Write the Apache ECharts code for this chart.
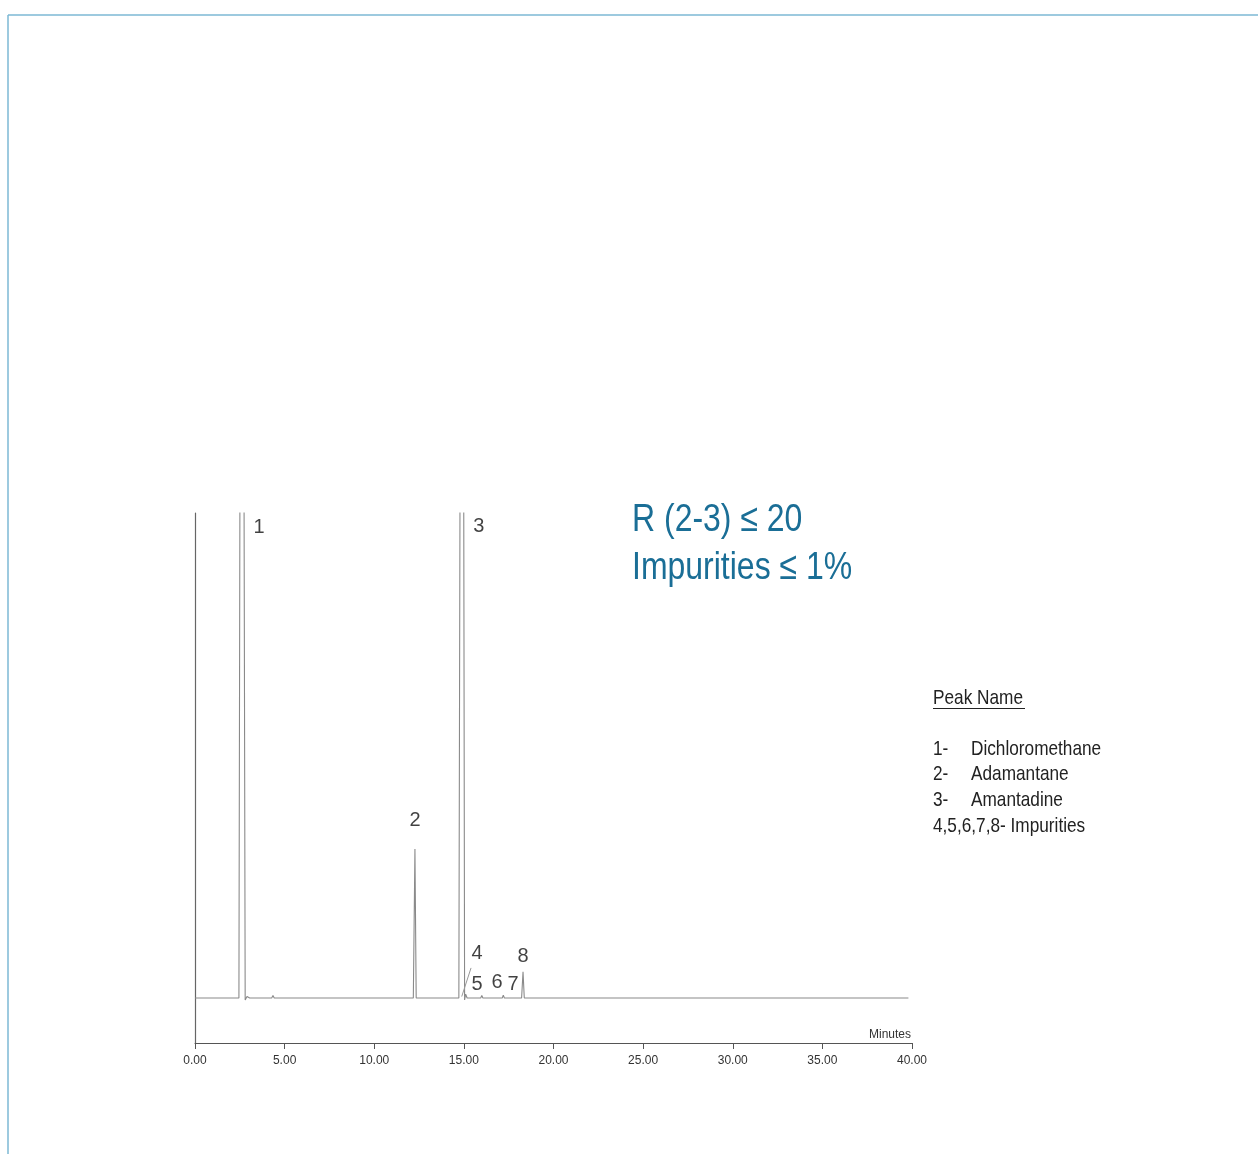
<!DOCTYPE html>
<html>
<head>
<meta charset="utf-8">
<script src="https://cdn.jsdelivr.net/npm/echarts@6/dist/echarts.min.js"></script>
<style>
html,body{margin:0;padding:0;background:#fff;}
#chart{width:1258px;height:1154px;}
</style>
</head>
<body>
<div id="chart"></div>
<script>
// Chromatogram trace: retention time (minutes) and detector signal (relative units)
const times  = [0, 2.45, 2.52, 2.72, 2.80, 2.90, 3.05, 4.28, 4.35, 4.42, 12.18, 12.27, 12.34, 14.72, 14.80, 14.98, 15.04, 15.10, 15.18, 15.94, 16.00, 16.06, 17.14, 17.20, 17.26, 17.84, 17.90, 17.96, 18.22, 18.30, 18.37, 39.80];
const signal = [0, 0, 130, 130, -0.4, 0.3, 0, 0, 0.5, 0, 0, 30.7, 0, 0, 130, 130, -0.4, 0.8, 0, 0, 0.5, 0, 0, 0.6, 0, 0, 0.4, 0, 0, 5.4, 0, 0];

// Peak numbers and where their labels sit (time, signal)
const peakLabels = ['1', '2', '3', '4', '5', '6', '7', '8'];
const labelTimes = [3.57, 12.27, 15.84, 15.73, 15.73, 16.85, 17.74, 18.30];
const labelValues = [97.1, 36.5, 97.3, 9.1, 2.7, 3.1, 2.7, 8.5];

// Leader line from label 4 to its peak
const leaderTimes = [15.40, 14.88];
const leaderValues = [6.2, 0.3];

// X-axis ticks
const xMin = 0, xMax = 40, xStep = 5;

// Notes
const criteria = ['R (2-3) \u2264 20', 'Impurities \u2264 1%'];
const legendTitle = 'Peak Name';
const legendNums = ['1-', '2-', '3-'];
const legendNames = ['Dichloromethane', 'Adamantane', 'Amantadine'];
const legendLast = '4,5,6,7,8- Impurities';

const sans = "'Liberation Sans', Arial, sans-serif";
const NARROW = 0.82;

function narrowText(x, y, text, size, fill) {
  return {type: 'text', x: x, y: y, scaleX: NARROW, scaleY: 1,
    style: {x: 0, y: 0, text: text, font: size + 'px ' + sans, fill: fill, verticalAlign: 'middle', align: 'left'}};
}

const chart = echarts.init(document.getElementById('chart'), null, {renderer: 'canvas'});

const graphic = [
  {type: 'line', shape: {x1: 8, y1: 15, x2: 1258, y2: 15}, style: {stroke: '#7db9d5', lineWidth: 1.5}},
  {type: 'line', shape: {x1: 8, y1: 15, x2: 8, y2: 1154}, style: {stroke: '#7db9d5', lineWidth: 1.5}},
  narrowText(632, 520, criteria[0], 39, '#1a6e96'),
  narrowText(632, 568, criteria[1], 39, '#1a6e96'),
  narrowText(933, 698, legendTitle, 21, '#222'),
  {type: 'line', shape: {x1: 933, y1: 708.5, x2: 1025, y2: 708.5}, style: {stroke: '#222', lineWidth: 1}},
  {type: 'text', x: 911, y: 1035, style: {x: 0, y: 0, text: 'Minutes', font: '12px ' + sans, fill: '#333', align: 'right', verticalAlign: 'middle'}}
];
legendNums.forEach((n, i) => {
  graphic.push(narrowText(933, 749 + i * 25.6, n, 21, '#222'));
  graphic.push(narrowText(971, 749 + i * 25.6, legendNames[i], 21, '#222'));
});
graphic.push(narrowText(933, 749 + 3 * 25.6, legendLast, 21, '#222'));

chart.setOption({
  animation: false,
  backgroundColor: '#fff',
  grid: {left: 195, right: 346, top: 513, bottom: 111, containLabel: false},
  xAxis: {
    type: 'value', min: xMin, max: xMax, interval: xStep,
    axisLine: {show: true, onZero: false, lineStyle: {color: '#555', width: 1}},
    axisTick: {show: true, length: 6, lineStyle: {color: '#555'}},
    axisLabel: {color: '#333', fontSize: 12, fontFamily: sans, margin: 12,
      formatter: v => v.toFixed(2)},
    splitLine: {show: false}
  },
  yAxis: {
    type: 'value', min: -9.28, max: 100,
    axisLine: {show: true, onZero: false, lineStyle: {color: '#666', width: 1.2}},
    axisTick: {show: false}, axisLabel: {show: false}, splitLine: {show: false}
  },
  graphic: graphic,
  series: [
    {
      type: 'line', data: times.map((t, i) => [t, signal[i]]),
      symbol: 'none', clip: true,
      lineStyle: {color: '#8a8a8a', width: 1.1}
    },
    {
      type: 'line', data: leaderTimes.map((t, i) => [t, leaderValues[i]]),
      symbol: 'none', lineStyle: {color: '#999', width: 1}
    },
    {
      type: 'scatter', symbolSize: 0,
      data: labelTimes.map((t, i) => ({value: [t, labelValues[i]], name: peakLabels[i]})),
      label: {show: true, position: 'inside', formatter: p => p.name,
        fontSize: 20, fontFamily: sans, color: '#111', textBorderWidth: 0}
    }
  ]
});
</script>
</body>
</html>
